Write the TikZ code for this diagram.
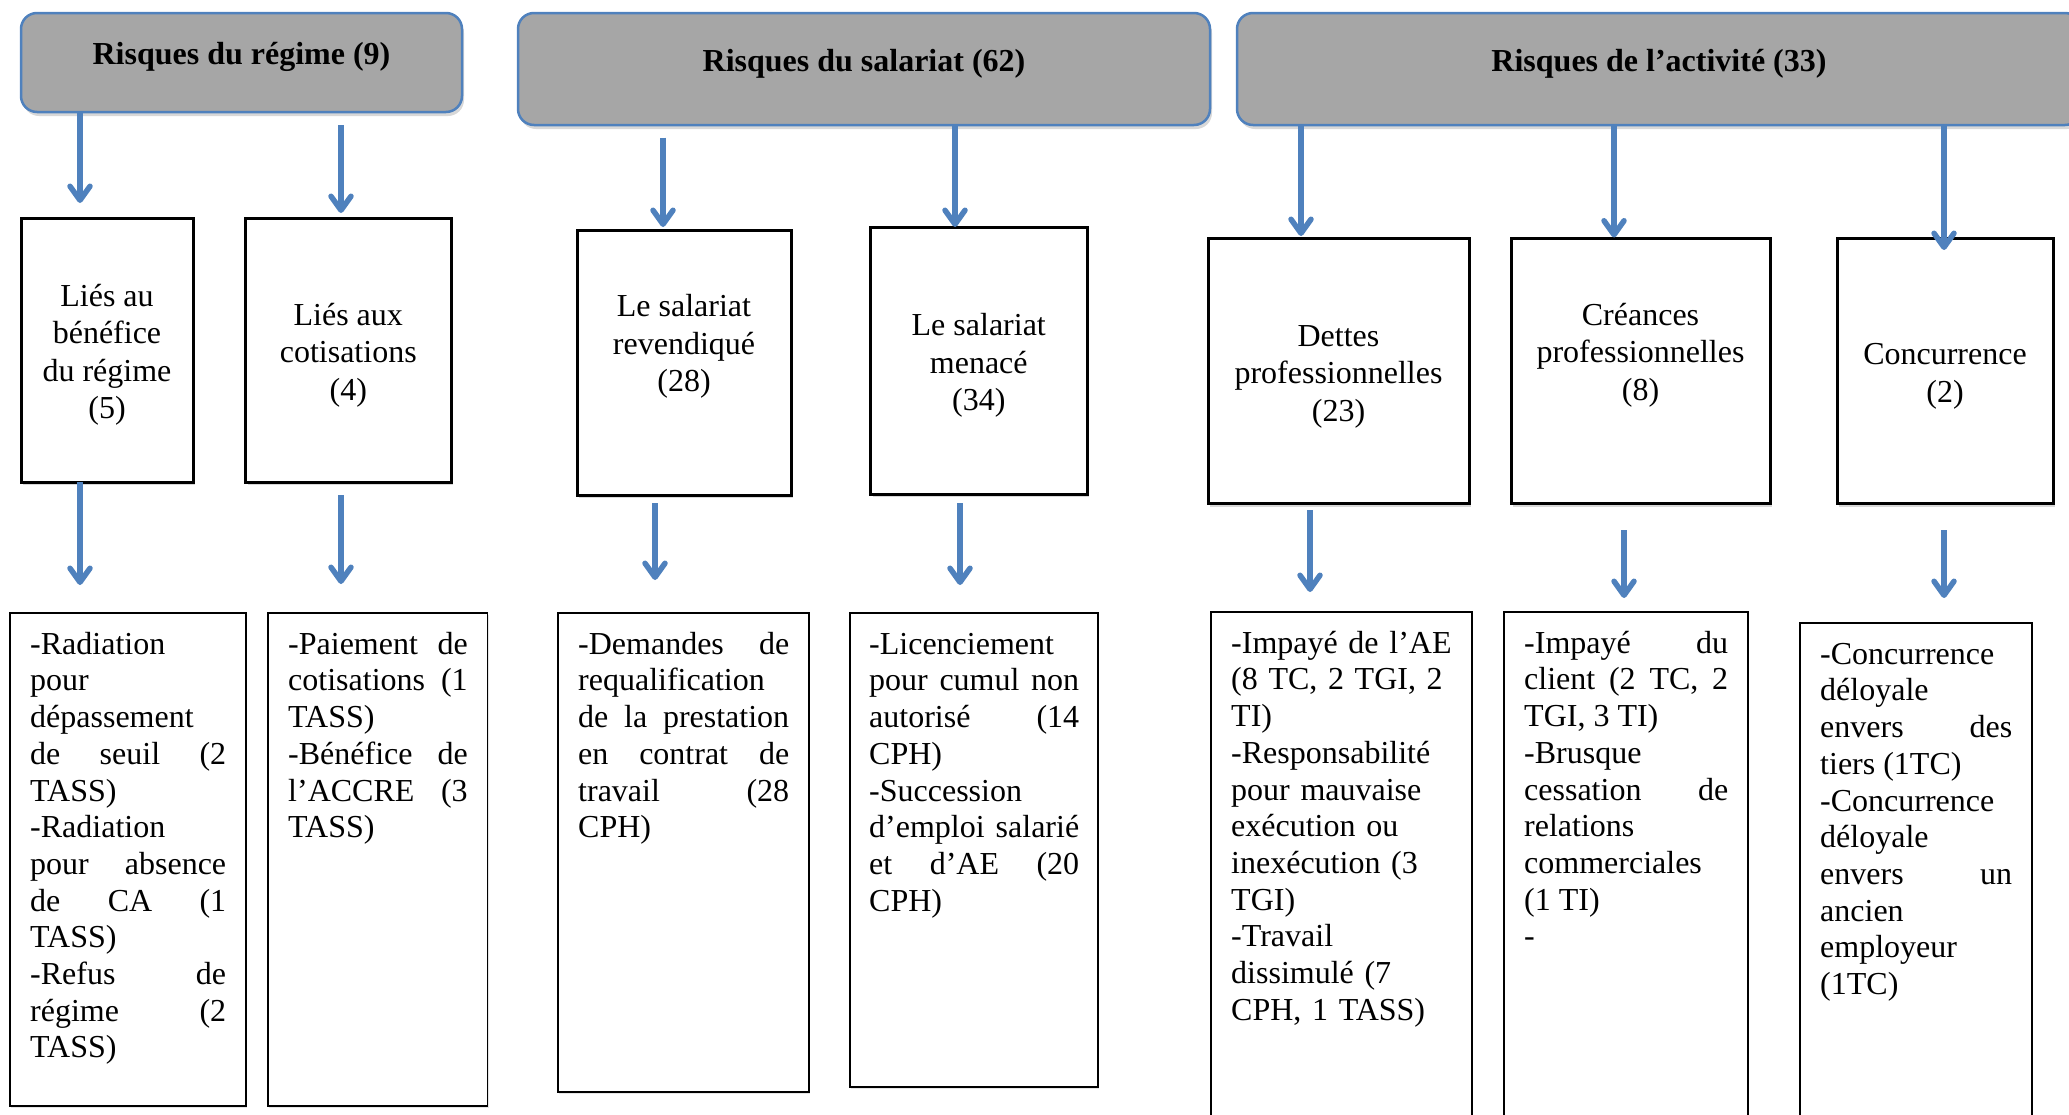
\documentclass[tikz,border=0pt]{standalone}
\usepackage{fontspec}
\setmainfont{Liberation Serif}
\usetikzlibrary{arrows.meta,shadows}

\definecolor{bleuoffice}{HTML}{4F81BD}
\definecolor{grisentete}{HTML}{A6A6A6}
\newcommand{\policeboite}{\fontsize{32}{37.5}\selectfont}
\newcommand{\policeliste}{\fontsize{32}{36.7}\selectfont\tolerance=10000\hbadness=10000\hyphenpenalty=10000\exhyphenpenalty=10000}
\newcommand{\haut}{\rule{0pt}{32pt}}

\begin{document}
\begin{tikzpicture}[x=1pt, y=-1pt,
    entete/.style={draw=bleuoffice, line width=2.5pt, fill=grisentete, rounded corners=16pt,
        anchor=north west, outer sep=0pt, text height=23pt, text depth=19pt, font=\bfseries\policeboite,
        drop shadow={shadow xshift=2pt, shadow yshift=-4pt, fill=black!30}},
    boitemilieu/.style={draw=black, line width=3pt, fill=white, anchor=north west, outer sep=0pt,
        align=center, font=\policeboite, drop shadow={shadow xshift=2pt, shadow yshift=-3pt, fill=black!30}},
    boiteliste/.style={draw=black, line width=1.3pt, fill=white, anchor=north west, outer sep=0pt,
        drop shadow={shadow xshift=1pt, shadow yshift=-2pt, fill=black!20}},
    texteliste/.style={anchor=north west, inner sep=0pt, align=justify, font=\policeliste},
    fleche/.style={draw=bleuoffice, line width=5.5pt, -{Straight Barb[length=14pt,width=20pt,round]}}]

    % cadre de l'image
    \useasboundingbox (0,0) rectangle (2069,1114);
    \clip (0,0) rectangle (2069,1114);

    % les trois familles de risques
    \node[entete, minimum width=441pt, minimum height=99pt] (h1) at (21,13) {Risques du régime (9)};
    \node[entete, minimum width=692pt, minimum height=112pt] (h2) at (518,13) {Risques du salariat (62)};
    \node[entete, minimum width=844pt, minimum height=112pt] (h3) at (1237,13) {Risques de l’activité (33)};

    % les sous-catégories
    \node[boitemilieu, minimum width=172pt, minimum height=264pt] (m1) at (21,218) {\haut Liés au\\bénéfice\\du régime\\(5)};
    \node[boitemilieu, minimum width=205.5pt, minimum height=264pt] (m2) at (245.5,218) {\haut Liés aux\\cotisations\\(4)};
    \node[boitemilieu, minimum width=214pt, minimum height=265pt] (m3) at (577,230) {\haut Le salariat\\revendiqué\\(28)\\ \strut};
    \node[boitemilieu, minimum width=216.5pt, minimum height=266.5pt] (m4) at (870.5,227.5) {\haut Le salariat\\menacé\\(34)};
    \node[boitemilieu, minimum width=261pt, minimum height=265pt] (m5) at (1208,238.6) {\haut Dettes\\professionnelles\\(23)};
    \node[boitemilieu, minimum width=259pt, minimum height=265pt] (m6) at (1511,238.6) {\haut Créances\\professionnelles\\(8)\\ \strut};
    \node[boitemilieu, minimum width=216pt, minimum height=265pt] (m7) at (1837,238.6) {\haut Concurrence\\(2)};

    % les listes de décisions
    \node[boiteliste, minimum width=236pt, minimum height=493pt] (b1) at (10,613) {};
    \node[boiteliste, minimum width=219.5pt, minimum height=493pt] (b2) at (268,613) {};
    \node[boiteliste, minimum width=251pt, minimum height=479pt] (b3) at (558,613) {};
    \node[boiteliste, minimum width=248pt, minimum height=474pt] (b4) at (850,613) {};
    \node[boiteliste, minimum width=261pt, minimum height=530pt] (b5) at (1211,612) {};
    \node[boiteliste, minimum width=244pt, minimum height=530pt] (b6) at (1504,612) {};
    \node[boiteliste, minimum width=232pt, minimum height=520pt] (b7) at (1800,623) {};

    \node[texteliste, text width=196pt] (l1) at ([xshift=20pt,yshift=-15.3pt]b1.north west)
        {\strut-Radiation\linebreak pour\linebreak dépassement\linebreak de seuil (2\linebreak TASS)\par
         -Radiation\linebreak pour absence\linebreak de CA (1\linebreak TASS)\par
         -Refus de\linebreak régime (2\linebreak TASS)};
    \node[texteliste, text width=179.5pt] (l2) at ([xshift=20pt,yshift=-15.3pt]b2.north west)
        {\strut-Paiement de\linebreak cotisations (1\linebreak TASS)\par
         -Bénéfice de\linebreak l’ACCRE (3\linebreak TASS)};
    \node[texteliste, text width=211pt] (l3) at ([xshift=20pt,yshift=-15.3pt]b3.north west)
        {\strut-Demandes de\linebreak requalification\linebreak de la prestation\linebreak en contrat de\linebreak travail (28\linebreak CPH)};
    \node[texteliste, text width=210pt] (l4) at ([xshift=19pt,yshift=-15.3pt]b4.north west)
        {\strut-Licenciement\linebreak pour cumul non\linebreak autorisé (14\linebreak CPH)\par
         -Succession\linebreak d’emploi salarié\linebreak et d’AE (20\linebreak CPH)};
    \node[texteliste, text width=221pt, align=left] (l5) at ([xshift=20pt,yshift=-15.3pt]b5.north west)
        {\strut-Impayé de l’AE\\ (8 TC, 2 TGI, 2\\ TI)\\ -Responsabilité\\ pour mauvaise\\ exécution ou\\ inexécution (3\\ TGI)\\ -Travail\\ dissimulé (7\\ CPH, 1 TASS)};
    \node[texteliste, text width=204pt] (l6) at ([xshift=20pt,yshift=-15.3pt]b6.north west)
        {\strut-Impayé du\linebreak client (2 TC, 2\linebreak TGI, 3 TI)\par
         -Brusque\linebreak cessation de\linebreak relations\linebreak commerciales\linebreak (1 TI)\par
         -};
    \node[texteliste, text width=192pt] (l7) at ([xshift=20pt,yshift=-15.3pt]b7.north west)
        {\strut-Concurrence\linebreak déloyale\linebreak envers des\linebreak tiers (1TC)\par
         -Concurrence\linebreak déloyale\linebreak envers un\linebreak ancien\linebreak employeur\linebreak (1TC)};

    % pointes des flèches
    \coordinate (p1) at (80,203);
    \coordinate (p2) at (341,213);
    \coordinate (p3) at (663,227);
    \coordinate (p4) at (955,227);
    \coordinate (p5) at (1301,236);
    \coordinate (p6) at (1614,237.5);
    \coordinate (p7) at (1944,250);
    \coordinate (q1) at (80,585);
    \coordinate (q2) at (341,584);
    \coordinate (q3) at (655,580);
    \coordinate (q4) at (960,585);
    \coordinate (q5) at (1310,592);
    \coordinate (q6) at (1624,598);
    \coordinate (q7) at (1944,598);

    % flèches entre familles et sous-catégories
    \draw[fleche] (h1.south -| p1) -- (p1);
    \draw[fleche, shorten <=13pt] (h1.south -| p2) -- (p2);
    \draw[fleche, shorten <=12.5pt] (h2.south -| p3) -- (p3);
    \draw[fleche] (h2.south -| p4) -- (p4);
    \draw[fleche] (h3.south -| p5) -- (p5);
    \draw[fleche] (h3.south -| p6) -- (p6);
    \draw[fleche] (h3.south -| p7) -- (p7);

    % flèches vers les listes
    \draw[fleche] (m1.south -| q1) -- (q1);
    \draw[fleche, shorten <=13pt] (m2.south -| q2) -- (q2);
    \draw[fleche, shorten <=8pt] (m3.south -| q3) -- (q3);
    \draw[fleche, shorten <=9pt] (m4.south -| q4) -- (q4);
    \draw[fleche, shorten <=6.5pt] (m5.south -| q5) -- (q5);
    \draw[fleche, shorten <=26.5pt] (m6.south -| q6) -- (q6);
    \draw[fleche, shorten <=26.5pt] (m7.south -| q7) -- (q7);

\end{tikzpicture}
\end{document}
